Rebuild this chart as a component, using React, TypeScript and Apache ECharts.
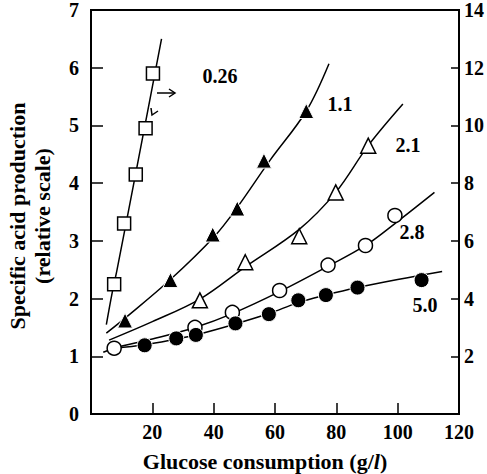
import React, { useEffect, useRef } from "react";
import * as echarts from "echarts";

// ---- data ----
// x: glucose consumption (g/l); y: specific acid production (relative scale)
// 0.26 series is plotted on the right axis (values on the right scale)
const sq026Points: number[][] = [[7.55, 4.5], [10.8, 6.6], [14.6, 8.3], [17.8, 9.9], [20.2, 11.8]];
const sq026Curve: number[][] = [[5.0, 3.1], [6.9, 4.2], [8.5, 5.0], [15.6, 8.9], [23.0, 13.0]];

const tri11Points: number[][] = [[11.1, 1.62], [25.9, 2.32], [39.7, 3.11], [47.7, 3.56], [56.4, 4.39], [70.2, 5.25]];
const tri11Curve: number[][] = [[5.0, 1.4], [11.1, 1.66], [25.9, 2.33], [40.3, 3.08], [47.7, 3.58], [58.3, 4.39], [70.2, 5.25], [77.6, 6.07]];

const tri21Points: number[][] = [[35.5, 1.97], [50.3, 2.63], [67.9, 3.08], [79.8, 3.84], [90.4, 4.65]];
const tri21Curve: number[][] = [[5.9, 1.28], [20, 1.6], [35.5, 1.99], [50.3, 2.55], [67.9, 3.2], [79.8, 3.84], [90.4, 4.65], [101.7, 5.37]];

const circ28Points: number[][] = [[7.55, 1.14], [33.9, 1.5], [46.1, 1.76], [61.5, 2.14], [77.3, 2.58], [89.5, 2.92], [99.1, 3.44]];
const circ28Curve: number[][] = [[4.0, 1.07], [7.55, 1.14], [20, 1.3], [33.9, 1.5], [46.1, 1.74], [61.5, 2.12], [77.3, 2.56], [89.5, 2.92], [99.1, 3.3], [112.0, 3.84]];

const dot50Points: number[][] = [[17.5, 1.19], [27.8, 1.31], [34.2, 1.37], [47.1, 1.57], [58.0, 1.73], [67.6, 1.97], [76.6, 2.06], [86.9, 2.19], [107.8, 2.32]];
const dot50Curve: number[][] = [[7.55, 1.14], [17.5, 1.2], [27.8, 1.3], [34.2, 1.37], [47.1, 1.56], [58.0, 1.74], [67.6, 1.93], [76.6, 2.06], [86.9, 2.19], [100, 2.33], [114.5, 2.47]];

const xMin = 0, xMax = 120, xStep = 20;
const yLeftMin = 0, yLeftMax = 7, yLeftStep = 1;
const yRightMin = 0, yRightMax = 14, yRightStep = 2;

const seriesNames = ["0.26", "1.1", "2.1", "2.8", "5.0"];

const FONT = "'Liberation Serif', 'DejaVu Serif', serif";

export default function App() {
  const ref = useRef<HTMLDivElement>(null);
  useEffect(() => {
    if (!ref.current) return;
    const chart = echarts.init(ref.current, null, { renderer: "svg" });
    const lineS = (data: number[][], yAxisIndex = 0) => ({
      type: "line",
      data,
      yAxisIndex,
      smooth: 0.35,
      showSymbol: false,
      symbol: "none",
      lineStyle: { color: "#000", width: 1.5 },
      z: 2,
      silent: true,
    });
    const scat = (data: number[][], symbol: string, filled: boolean, size: number, yAxisIndex = 0) => ({
      type: "scatter",
      data,
      yAxisIndex,
      symbol,
      symbolSize: size,
      itemStyle: {
        color: filled ? "#000" : "#fff",
        borderColor: filled ? "#fff" : "#000",
        borderWidth: filled ? 1 : 1.5,
        opacity: 1,
      },
      z: 5,
      silent: true,
    });
    const labelText = (text: string, x: number, y: number) => ({
      type: "text",
      x,
      y,
      style: {
        text,
        font: `bold 20px ${FONT}`,
        fill: "#000",
        align: "center",
        verticalAlign: "middle",
      },
    });
    const option: any = {
      animation: false,
      backgroundColor: "#fff",
      grid: {
        left: 91,
        right: 24,
        top: 9,
        bottom: 60,
        show: true,
        borderColor: "#000",
        borderWidth: 2,
        backgroundColor: "transparent",
      },
      xAxis: {
        type: "value",
        min: xMin,
        max: xMax,
        interval: xStep,
        axisLine: { lineStyle: { color: "#000", width: 2 } },
        axisTick: { inside: true, length: 11, lineStyle: { color: "#000", width: 1.5 } },
        splitLine: { show: false },
        axisLabel: {
          color: "#000",
          fontFamily: FONT,
          fontWeight: "bold",
          fontSize: 20,
          margin: 8,
          formatter: (v: number) => (v === 0 ? "" : String(v)),
        },
      },
      yAxis: [
        {
          type: "value",
          min: yLeftMin,
          max: yLeftMax,
          interval: yLeftStep,
          axisLine: { show: true, lineStyle: { color: "#000", width: 2 } },
          axisTick: { show: true, inside: true, length: 12, lineStyle: { color: "#000", width: 1.5 } },
          splitLine: { show: false },
          axisLabel: {
            color: "#000",
            fontFamily: FONT,
            fontWeight: "bold",
            fontSize: 20,
            margin: 12,
          },
        },
        {
          type: "value",
          position: "right",
          min: yRightMin,
          max: yRightMax,
          interval: yRightStep,
          axisLine: { show: true, lineStyle: { color: "#000", width: 2 } },
          axisTick: { show: true, inside: true, length: 8, lineStyle: { color: "#000", width: 1.5 } },
          splitLine: { show: false },
          axisLabel: {
            color: "#000",
            fontFamily: FONT,
            fontWeight: "bold",
            fontSize: 20,
            margin: 5,
            formatter: (v: number) => (v === 0 ? "" : String(v)),
          },
        },
      ],
      series: [
        lineS(sq026Curve, 1),
        lineS(tri11Curve),
        lineS(tri21Curve),
        lineS(circ28Curve),
        lineS(dot50Curve),
        scat(sq026Points, "rect", false, 13, 1),
        scat(tri11Points, "triangle", true, 15),
        scat(tri21Points, "triangle", false, 15),
        scat(circ28Points, "circle", false, 14),
        scat(dot50Points, "circle", true, 15),
      ],
      graphic: [
        labelText(seriesNames[0], 220, 76),
        labelText(seriesNames[1], 340, 104),
        labelText(seriesNames[2], 408, 145),
        labelText(seriesNames[3], 412, 232),
        labelText(seriesNames[4], 425, 305),
        // arrow pointing to the right axis for the 0.26 series
        { type: "line", shape: { x1: 157, y1: 93, x2: 175, y2: 93 }, style: { stroke: "#000", lineWidth: 1.5 } },
        { type: "polyline", shape: { points: [[169, 89], [175, 93], [169, 97]] }, style: { stroke: "#000", lineWidth: 1.5, fill: "none" } },
        { type: "polyline", shape: { points: [[151, 108], [152, 115], [158, 111]] }, style: { stroke: "#000", lineWidth: 1.5, fill: "none" } },
        // axis titles
        {
          type: "text",
          x: 265,
          y: 461,
          style: {
            text: "{a|Glucose consumption (g/}{i|l}{a|)}",
            align: "center",
            verticalAlign: "middle",
            rich: {
              a: { font: `bold 22px ${FONT}`, fill: "#000" },
              i: { font: `italic bold 22px ${FONT}`, fill: "#000" },
            },
          },
        },
        {
          type: "text",
          x: 30,
          y: 216,
          rotation: Math.PI / 2,
          style: {
            text: "Specific acid production\n(relative scale)",
            font: `bold 22px ${FONT}`,
            fill: "#000",
            align: "center",
            verticalAlign: "middle",
            lineHeight: 25,
          },
        },
      ],
    };
    chart.setOption(option);
    return () => chart.dispose();
  }, []);
  return (
    <div
      ref={ref}
      style={{ position: "absolute", left: 0, top: 0, width: 487, height: 474, background: "#fff" }}
    />
  );
}
